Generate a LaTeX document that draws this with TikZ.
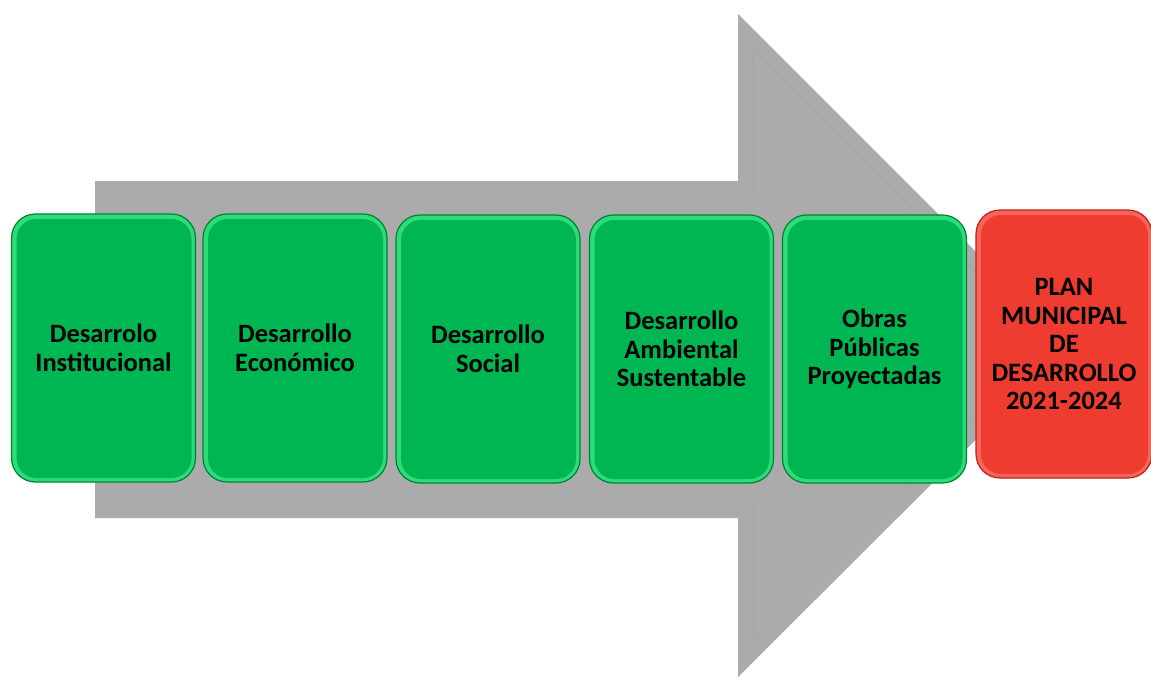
\documentclass[tikz,border=0pt]{standalone}
\usepackage{fontspec}
\setmainfont{Carlito}
\usepackage{tikz}

\definecolor{arrowgray}{RGB}{171,171,171}
\definecolor{arrowedge}{RGB}{165,165,165}
\definecolor{greenmain}{RGB}{0,182,82}
\definecolor{greenlight}{RGB}{45,220,120}
\definecolor{greendark}{RGB}{0,130,54}
\definecolor{redmain}{RGB}{238,60,48}
\definecolor{redlight}{RGB}{250,100,88}
\definecolor{reddark}{RGB}{180,36,26}

\tikzset{
  stagebox/.style={draw=greendark, fill=greenlight, line width=1.2pt,
    rounded corners=24pt, minimum width=184pt, minimum height=268pt,
    align=center, font=\fontsize{26.5}{28.5}\selectfont\bfseries,
    path picture={\fill[greenmain, rounded corners=20pt]
      ([shift={(5pt,-5pt)}]path picture bounding box.north west) rectangle
      ([shift={(-4pt,4pt)}]path picture bounding box.south east);}},
  planbox/.style={stagebox, draw=reddark, fill=redlight,
    minimum width=176pt,
    path picture={\fill[redmain, rounded corners=20pt]
      ([shift={(5pt,-5pt)}]path picture bounding box.north west) rectangle
      ([shift={(-4pt,4pt)}]path picture bounding box.south east);}}
}

\begin{document}
\begin{tikzpicture}[x=1pt,y=-1pt]

 \useasboundingbox (0,0) rectangle (1151,677);

 % big grey arrow behind the stages
 \fill[arrowgray] (95,181) -- (738,181) -- (738,14) -- (1070,346)
   -- (738,677) -- (738,518) -- (95,518) -- cycle;
 \draw[arrowedge, line width=0.8pt] (753,196) -- (753,50) -- (1049,346)
   -- (753,642) -- (753,503);

 \node[stagebox] (inst) at (103.5,348) {Desarrolo\\Institucional};

 \node[stagebox] (econ) at (295,348) {Desarrollo\\Económico};

 \node[stagebox] (soc) at (488,349) {Desarrollo\\Social};

 \node[stagebox] (amb) at (681.5,349) {Desarrollo\\Ambiental\\Sustentable};

 \node[stagebox] (obras) at (874.5,349) {Obras\\Públicas\\Proyectadas};

 \node[planbox] (plan) at (1064,344)
   {PLAN\\MUNICIPAL\\DE\\DESARROLLO\\2021-2024};

\end{tikzpicture}
\end{document}
